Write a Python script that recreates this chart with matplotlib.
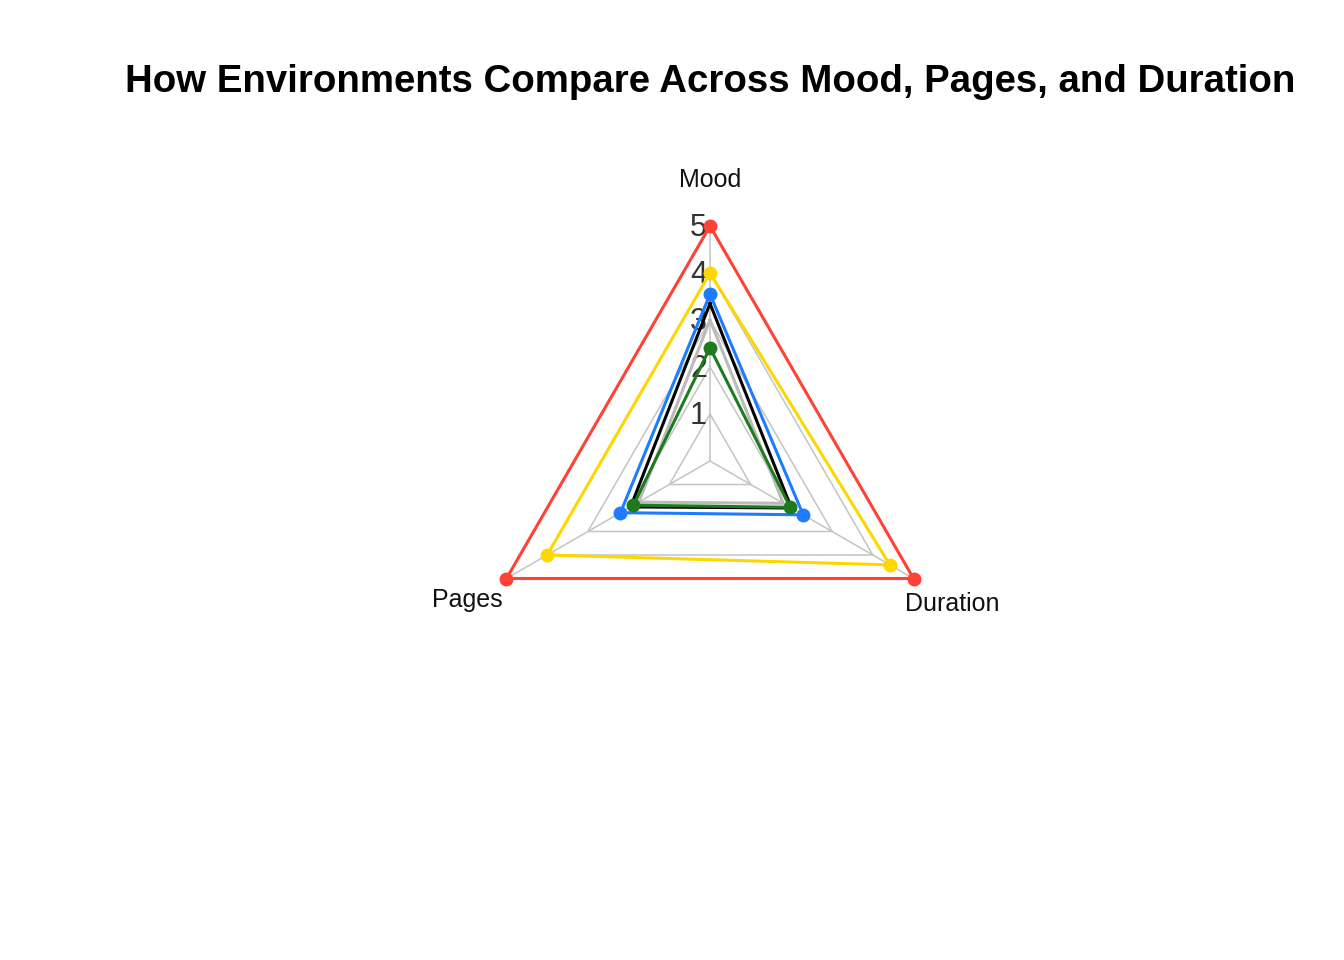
import numpy as np
import matplotlib
matplotlib.use("Agg")
import matplotlib.pyplot as plt

plt.rcParams['font.family'] = ['Liberation Sans', 'DejaVu Sans']

categories = ["Mood", "Pages", "Duration"]
series_names = ["Library", "Cafe", "Home", "Office", "Average", "Park"]
series_values = [
    [5.0, 5.0, 5.0],
    [4.0, 4.0, 4.42],
    [3.55, 2.2, 2.29],
    [3.35, 1.95, 2.0],
    [3.0, 1.75, 1.8],
    [2.41, 1.88, 1.97],
]
series_colors = ["#FF4136", "#FFD700", "#1F7BFF", "#000000", "#BBBBBB", "#1E7A1E"]
series_markers = [True, True, True, False, False, True]
radial_ticks = [1, 2, 3, 4, 5]
title = "How Environments Compare Across Mood, Pages, and Duration"

fig = plt.figure(figsize=(13.44, 9.6), dpi=100)
cx, cy, R = 710, 461, 235
W, H = 1344, 960
ax = fig.add_axes([(cx - R) / W, (H - cy - R) / H, 2 * R / W, 2 * R / H], projection='polar')
ax.set_theta_offset(np.pi / 2)
ax.set_theta_direction(1)
ax.set_ylim(0, 5)
ax.grid(False)
ax.spines['polar'].set_visible(False)
ax.set_xticks([])
ax.set_yticks([])
ax.patch.set_alpha(0)

n = len(categories)
angles = np.arange(n) * 2 * np.pi / n
closed = np.concatenate([angles, angles[:1]])

# polygon grid
for r in radial_ticks:
    ax.plot(closed, [r] * (n + 1), color="#C4C4C4", lw=1.1, zorder=1, clip_on=False)
for a in angles:
    ax.plot([a, a], [0, 5], color="#C4C4C4", lw=1.1, zorder=1, clip_on=False)

for vals, col, mk in zip(series_values, series_colors, series_markers):
    v = np.array(vals + vals[:1])
    ax.plot(closed, v, color=col, lw=2.2, zorder=3, clip_on=False,
            marker='o' if mk else None, markersize=9, markevery=list(range(n)))

# radial tick labels
for r in radial_ticks:
    ax.annotate(str(r), xy=(0, r), xytext=(-3, -2), textcoords='offset pixels',
                ha='right', va='center', fontsize=22, color="#333333", zorder=2)

# category labels
label_offsets = {"Mood": (0, 46), "Pages": (-39, -22), "Duration": (39, -25)}
for a, c in zip(angles, categories):
    dx, dy = label_offsets[c]
    ax.annotate(c, xy=(a, 5), xytext=(dx, dy), textcoords='offset pixels',
                ha='center', va='center', fontsize=18, color="#111111",
                annotation_clip=False)

fig.text(710 / W, 1 - 82 / H, title, ha='center', va='center',
         fontsize=27.6, fontweight='bold', color='black')

fig.savefig("out.png", dpi=100)
